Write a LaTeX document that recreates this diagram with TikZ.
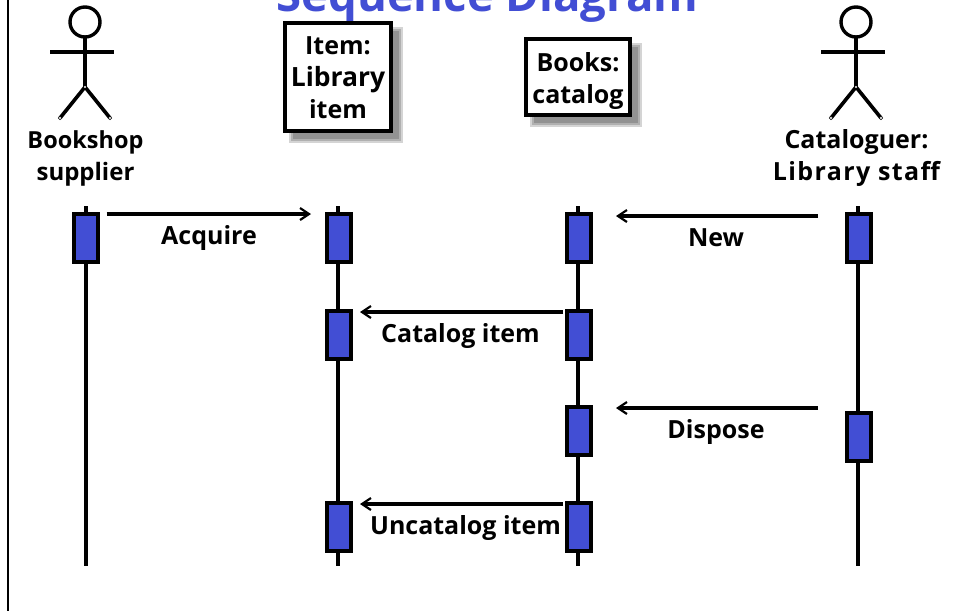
\documentclass[tikz,border=0pt]{standalone}
\usepackage{fontspec}
\setmainfont{Open Sans}
\usetikzlibrary{arrows.meta}
\definecolor{actblue}{RGB}{66,78,212}
\tikzset{
  x=1pt,y=-1pt,
  lifeline/.style={line width=3.5pt,black},
  actbox/.style={draw=black,fill=actblue,line width=4pt,minimum width=24pt,minimum height=48pt,inner sep=0pt,outer sep=0pt},
  objbox/.style={draw=black,fill=white,line width=4pt,inner sep=0pt,outer sep=0pt,align=center,font=\fontsize{25}{32}\selectfont\bfseries},
  label/.style={inner sep=0pt,align=center,font=\fontsize{25}{32}\selectfont\bfseries},
  msg/.style={line width=3.2pt,black,-{Straight Barb[length=9pt,width=12pt,line width=2.2pt]}},
  limb/.style={line width=3.6pt,black},
  joint/.style={circle,draw=black,fill=white,line width=.6pt,minimum size=3.5pt,inner sep=0pt,outer sep=0pt},
}
\newcommand{\softshadow}[4]{%
  \foreach \g in {5,3,1}{\fill[black,opacity=.17] (#1+\g-2,#2+\g-2) rectangle (#3-\g+2,#4-\g+2);}}
\begin{document}
\begin{tikzpicture}
\useasboundingbox (0,0) rectangle (959,611);
\clip (0,0) rectangle (959,611);
\fill[white] (0,0) rectangle (959,611);
\draw[line width=2pt,black] (7.5,0) -- (7.5,611);
\node[font=\fontsize{45.5}{45.5}\selectfont\bfseries,text=actblue,inner sep=0pt,anchor=base] (title) at (487.5,11) {Sequence Diagram};

% lifelines
\foreach \n/\x in {la/86,lb/338,lc/578,ld/858}{
  \coordinate (\n top) at (\x,206);
  \coordinate (\n bot) at (\x,566);
  \draw[lifeline] (\n top) -- (\n bot);
}

% activations
\node[actbox] (a1) at (85.5,238) {};
\node[actbox] (b1) at (339,238) {};
\node[actbox] (c1) at (579,238) {};
\node[actbox] (d1) at (859,238) {};
\node[actbox] (b2) at (339,334.5) {};
\node[actbox] (c2) at (579,334.5) {};
\node[actbox] (c3) at (579,430.5) {};
\node[actbox] (d3) at (859,436.5) {};
\node[actbox] (b4) at (339,526.5) {};
\node[actbox] (c4) at (579,526.5) {};

% messages
\draw[msg] ([shift={(9pt,0pt)}]a1.north east) -- ([shift={(-16pt,0pt)}]b1.north west);
\draw[msg] ([shift={(-29pt,-2pt)}]d1.north west) -- ([shift={(25pt,-2pt)}]c1.north east);
\draw[msg] ([shift={(-4pt,-1.5pt)}]c2.north west) -- ([shift={(9pt,-1.5pt)}]b2.north east);
\draw[msg] ([shift={(-29pt,4.5pt)}]d3.north west) -- ([shift={(25pt,-1.5pt)}]c3.north east);
\draw[msg] ([shift={(-4pt,-1.5pt)}]c4.north west) -- ([shift={(9pt,-1.5pt)}]b4.north east);

% message labels
\node[label] (m1) at (209,238.5) {Acquire};
\node[label] (m2) at (716,238) {New};
\node[label] (m3) at (460.5,336) {Catalog item};
\node[label] (m4) at (716,431.5) {Dispose};
\node[label] (m5) at (465.5,528) {Uncatalog item};

% object boxes
\softshadow{290}{28}{402}{142}
\softshadow{531}{44}{641}{126}
\node[objbox,minimum width=106pt,minimum height=108pt] (item) at (338,77) {\rule{0pt}{20pt}Item:\\{\fontsize{26.5}{32}\selectfont Library}\\item};
\node[objbox,minimum width=104pt,minimum height=76pt] (books) at (578,77) {\rule{0pt}{27pt}Books:\\catalog};

% actors
\foreach \n/\x/\t in {p/85/{{\fontsize{23.5}{32}\selectfont Bookshop}\\{\fontsize{24}{32}\selectfont supplier}},q/856/{Cataloguer:\\{\addfontfeature{LetterSpace=5.5}Library staff}}}{
  \node[circle,draw=black,line width=3.4pt,minimum size=30pt,inner sep=0pt,outer sep=0pt] (\n head) at (\x,22) {};
  \coordinate (\n hip) at (\x,87);
  \coordinate (\n la) at (\x-35,52);
  \coordinate (\n ra) at (\x+29,52);
  \coordinate (\n lf) at (\x-25,118);
  \coordinate (\n rf) at (\x+25,118);
  \draw[limb] (\n head.south) -- (\n hip);
  \draw[limb] (\n la) -- (\n ra);
  \draw[limb] (\n lf) -- (\n hip) -- (\n rf);
  \node[joint] at (\n lf) {};
  \node[joint] at (\n rf) {};
  \node[joint,minimum size=2.4pt,draw=none] at (\n hip) {};
  \node[label] (\n name) at (\x+0.5,158.5) {\t};
}
\end{tikzpicture}
\end{document}
